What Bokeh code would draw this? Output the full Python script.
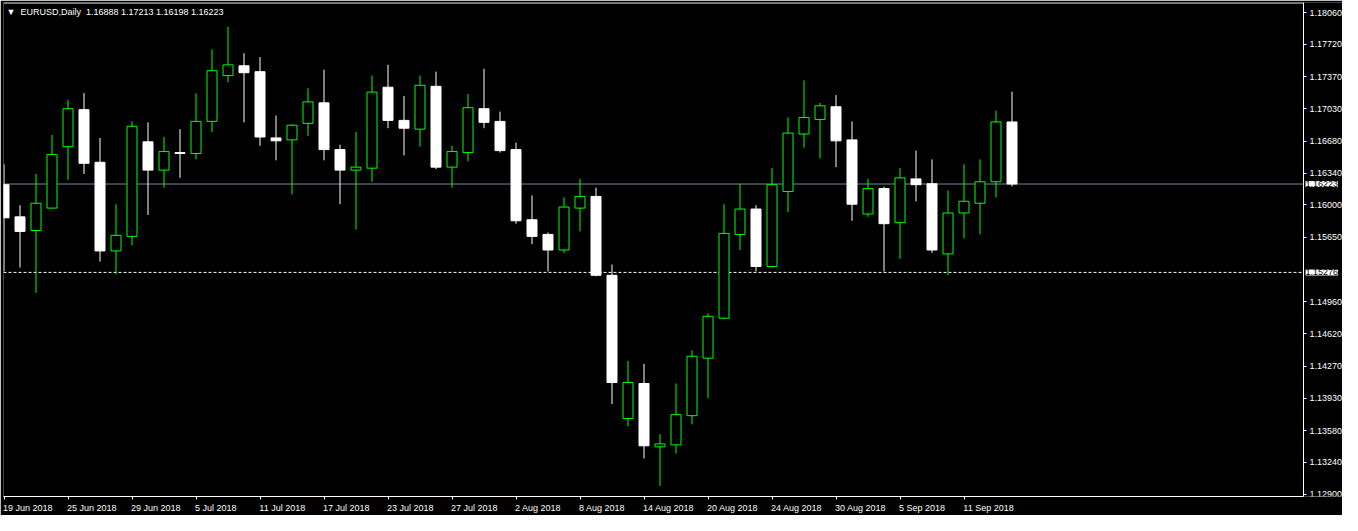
from bokeh.plotting import figure
from bokeh.models import (ColumnDataSource, Range1d, FixedTicker, PrintfTickFormatter, Label,
                          CustomJSTickFormatter)
from bokeh.embed import file_html
from bokeh.resources import INLINE

# ---------------- data ----------------
symbol = "EURUSD,Daily"
dates = [
    "2018-06-19", "2018-06-20", "2018-06-21", "2018-06-22", "2018-06-25", "2018-06-26", "2018-06-27", "2018-06-28",
    "2018-06-29", "2018-07-02", "2018-07-03", "2018-07-04", "2018-07-05", "2018-07-06", "2018-07-09", "2018-07-10",
    "2018-07-11", "2018-07-12", "2018-07-13", "2018-07-16", "2018-07-17", "2018-07-18", "2018-07-19", "2018-07-20",
    "2018-07-23", "2018-07-24", "2018-07-25", "2018-07-26", "2018-07-27", "2018-07-30", "2018-07-31", "2018-08-01",
    "2018-08-02", "2018-08-03", "2018-08-06", "2018-08-07", "2018-08-08", "2018-08-09", "2018-08-10", "2018-08-13",
    "2018-08-14", "2018-08-15", "2018-08-16", "2018-08-17", "2018-08-20", "2018-08-21", "2018-08-22", "2018-08-23",
    "2018-08-24", "2018-08-27", "2018-08-28", "2018-08-29", "2018-08-30", "2018-08-31", "2018-09-03", "2018-09-04",
    "2018-09-05", "2018-09-06", "2018-09-07", "2018-09-10", "2018-09-11", "2018-09-12", "2018-09-13", "2018-09-14",
]
opens = [
    1.16216, 1.15871, 1.15725, 1.15965, 1.16623, 1.17020, 1.16456, 1.15506,
    1.15662, 1.16675, 1.16372, 1.16560, 1.16550, 1.16894, 1.17385, 1.17490,
    1.17427, 1.16717, 1.16696, 1.16873, 1.17093, 1.16592, 1.16372, 1.16393,
    1.17260, 1.16905, 1.16811, 1.17270, 1.16404, 1.16560, 1.17030, 1.16894,
    1.16592, 1.15840, 1.15683, 1.15516, 1.15965, 1.16090, 1.15245, 1.13710,
    1.14086, 1.13407, 1.13428, 1.13741, 1.14357, 1.14785, 1.15683, 1.15955,
    1.15339, 1.16143, 1.16759, 1.16915, 1.17051, 1.16696, 1.15902, 1.16174,
    1.15809, 1.16278, 1.16226, 1.15474, 1.15913, 1.16017, 1.16247, 1.16888,
]
highs = [
    1.16435, 1.15996, 1.16331, 1.16748, 1.17124, 1.17197, 1.16717, 1.16007,
    1.16894, 1.16884, 1.16727, 1.16811, 1.17197, 1.17667, 1.17907, 1.17625,
    1.17583, 1.16957, 1.16863, 1.17249, 1.17448, 1.16644, 1.16780, 1.17385,
    1.17500, 1.17166, 1.17385, 1.17427, 1.16633, 1.17187, 1.17458, 1.16999,
    1.16665, 1.16101, 1.15704, 1.16080, 1.16278, 1.16184, 1.15360, 1.14326,
    1.14295, 1.13543, 1.14086, 1.14441, 1.14837, 1.16007, 1.16226, 1.15996,
    1.16393, 1.16936, 1.17333, 1.17093, 1.17176, 1.16894, 1.16278, 1.16195,
    1.16393, 1.16581, 1.16487, 1.16153, 1.16435, 1.16487, 1.17009, 1.17213,
]
lows = [
    1.15286, 1.15328, 1.15057, 1.15960, 1.16268, 1.16331, 1.15391, 1.15255,
    1.15568, 1.15892, 1.16184, 1.16289, 1.16487, 1.16780, 1.17312, 1.16884,
    1.16633, 1.16477, 1.16111, 1.16738, 1.16477, 1.16007, 1.15735, 1.16247,
    1.16821, 1.16529, 1.16623, 1.16383, 1.16184, 1.16466, 1.16821, 1.16560,
    1.15798, 1.15579, 1.15286, 1.15485, 1.15715, 1.15234, 1.13866, 1.13626,
    1.13282, 1.12989, 1.13334, 1.13647, 1.13929, 1.14775, 1.15516, 1.15286,
    1.15328, 1.15923, 1.16612, 1.16498, 1.16404, 1.15829, 1.15871, 1.15286,
    1.15422, 1.16038, 1.15485, 1.15245, 1.15641, 1.15683, 1.16080, 1.16198,
]
closes = [
    1.15861, 1.15715, 1.16017, 1.16539, 1.17030, 1.16445, 1.15506, 1.15673,
    1.16842, 1.16372, 1.16571, 1.16550, 1.16894, 1.17437, 1.17500, 1.17416,
    1.16727, 1.16686, 1.16853, 1.17103, 1.16592, 1.16372, 1.16404, 1.17208,
    1.16905, 1.16821, 1.17281, 1.16404, 1.16571, 1.17041, 1.16884, 1.16581,
    1.15829, 1.15662, 1.15516, 1.15976, 1.16090, 1.15245, 1.14096, 1.14096,
    1.13418, 1.13438, 1.13752, 1.14378, 1.14806, 1.15694, 1.15955, 1.15339,
    1.16216, 1.16769, 1.16936, 1.17061, 1.16686, 1.16007, 1.16174, 1.15798,
    1.16289, 1.16216, 1.15516, 1.15913, 1.16038, 1.16247, 1.16888, 1.16223,
]
tick_dates = ["2018-06-19", "2018-06-25", "2018-06-29", "2018-07-05", "2018-07-11", "2018-07-17",
              "2018-07-23", "2018-07-27", "2018-08-02", "2018-08-08", "2018-08-14", "2018-08-20",
              "2018-08-24", "2018-08-30", "2018-09-05", "2018-09-11"]
tick_labels = ["19 Jun 2018", "25 Jun 2018", "29 Jun 2018", "5 Jul 2018", "11 Jul 2018", "17 Jul 2018",
               "23 Jul 2018", "27 Jul 2018", "2 Aug 2018", "8 Aug 2018", "14 Aug 2018", "20 Aug 2018",
               "24 Aug 2018", "30 Aug 2018", "5 Sep 2018", "11 Sep 2018"]
price_ticks = [1.18060, 1.17720, 1.17370, 1.17030, 1.16680, 1.16340, 1.16000, 1.15650,
               1.14960, 1.14620, 1.14270, 1.13930, 1.13580, 1.13240, 1.12900]
bid_price = 1.16223
level_line = 1.15276

# ---------------- styling / layout ----------------
BULL = "#00FF00"
BEAR = "#FFFFFF"
FONT = "Liberation Sans"
FSPX = 9
FS = f"{FSPX}px"
BAR_PX = 16.0
W, H = 1342, 515
LEFT, TOP = 3, 2
CHART_W = 1300                      # width of the candle area (left of the price scale)
FRAME_W = W - LEFT
FRAME_H = 497
BOTTOM = H - TOP - FRAME_H
x0 = (LEFT - 3.5) / BAR_PX
x1 = x0 + FRAME_W / BAR_PX
x_scale = x0 + CHART_W / BAR_PX     # data x where the price scale sits
y0, y1 = 1.128747, 1.181681
px_per_unit = FRAME_H / (y1 - y0)

# approximate Liberation Sans advance widths (em) to left-align date labels at their ticks
_adv = {" ": 0.278, "J": 0.5, "A": 0.667, "S": 0.667, "u": 0.556, "n": 0.556, "l": 0.222,
        "g": 0.556, "e": 0.556, "p": 0.556}
def text_px(s):
    return sum(_adv.get(ch, 0.556) for ch in s) * FSPX

idx = list(range(len(dates)))
bull = [c > o for o, c in zip(opens, closes)]
src = ColumnDataSource(dict(
    x=idx,
    high=highs,
    low=lows,
    top=[max(o, c) for o, c in zip(opens, closes)],
    bottom=[min(o, c) for o, c in zip(opens, closes)],
    fill=["#000000" if b else BEAR for b in bull],
    line=[BULL if b else BEAR for b in bull],
))

p = figure(width=W, height=H, x_range=Range1d(x0, x1), y_range=Range1d(y0, y1),
           output_backend="svg", toolbar_location=None, tools="", y_axis_location="right",
           background_fill_color="black", border_fill_color="black",
           outline_line_color=None,
           min_border_left=LEFT, min_border_top=TOP, min_border_right=0,
           min_border_bottom=BOTTOM)
p.grid.visible = False

# reference lines (bid line, horizontal level) and top border of the chart area
p.segment(x0=[x0], x1=[x_scale], y0=[bid_price], y1=[bid_price], line_color="#778899", line_width=1)
p.segment(x0=[x0], x1=[x_scale], y0=[level_line], y1=[level_line], line_color="white",
          line_width=1, line_dash="3 2")
p.segment(x0=[x0], x1=[x_scale], y0=[y1 - 0.5 / px_per_unit], y1=[y1 - 0.5 / px_per_unit],
          line_color="white", line_width=1)

# candles
p.segment(x0="x", y0="low", x1="x", y1="high", line_color="line", line_width=1, source=src)
p.vbar(x="x", width=10 / BAR_PX, top="top", bottom="bottom", fill_color="fill",
       line_color="line", line_width=1, source=src)

# price scale (right), placed at the edge of the candle area
ya = p.yaxis[0]
ya.fixed_location = x_scale
ya.ticker = FixedTicker(ticks=price_ticks)
ya.formatter = PrintfTickFormatter(format="%.5f")
ya.axis_line_color = "white"
ya.major_tick_line_color = "white"
ya.major_tick_out = 3
ya.major_tick_in = 0
ya.minor_tick_line_color = None
ya.major_label_standoff = 3
ya.major_label_text_color = "white"
ya.major_label_text_font = FONT
ya.major_label_text_font_size = FS

# time scale: tick marks at the dates (minor ticks), labels centred so they start at the tick
tick_idx = [dates.index(d) for d in tick_dates]
label_pos = [ti + (text_px(lab) / 2 - 1) / BAR_PX for ti, lab in zip(tick_idx, tick_labels)]
xa = p.xaxis[0]
xa.bounds = (x0, x_scale)
xa.ticker = FixedTicker(ticks=label_pos, minor_ticks=tick_idx)
xa.formatter = CustomJSTickFormatter(args=dict(pos=label_pos, labels=tick_labels), code="""
    let best = 0, bd = Infinity;
    for (let i = 0; i < pos.length; i++) {
        const d = Math.abs(pos[i] - tick);
        if (d < bd) { bd = d; best = i; }
    }
    return labels[best];
""")
xa.axis_line_color = "white"
xa.major_tick_line_color = None
xa.major_tick_out = 0
xa.major_tick_in = 0
xa.minor_tick_line_color = "white"
xa.minor_tick_out = 3
xa.minor_tick_in = 0
xa.major_label_standoff = 3
xa.major_label_text_color = "white"
xa.major_label_text_font = FONT
xa.major_label_text_font_size = FS

# price boxes on the scale
for lvl in (bid_price, level_line):
    p.add_layout(Label(x=x_scale, y=lvl, text=f"{lvl:.5f}", text_align="left", text_baseline="middle",
                       x_offset=2, text_color="black", background_fill_color="white",
                       text_font=FONT, text_font_size=FS))

# header
NB = "\u00a0"
header = (f"\u25BC{NB}{NB}{symbol}{NB}{NB}{opens[-1]:.5f} {highs[-1]:.5f} "
          f"{lows[-1]:.5f} {closes[-1]:.5f}")
p.add_layout(Label(x=x0, y=y1, text=header, text_align="left", text_baseline="top",
                   x_offset=3, y_offset=-4, text_color="white", text_font=FONT,
                   text_font_size=FS))

open("out.html", "w").write(file_html(p, INLINE))
